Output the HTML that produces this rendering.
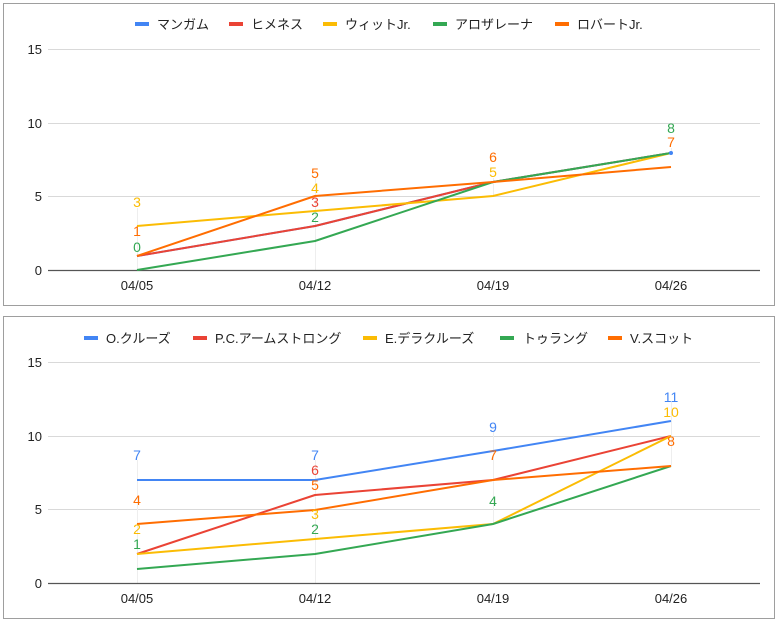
<!DOCTYPE html>
<html><head><meta charset="utf-8"><style>
html,body{margin:0;padding:0;background:#fff;}
svg{display:block;font-family:"Liberation Sans","Noto Sans CJK JP",sans-serif;}
</style></head><body>
<svg width="778" height="622" viewBox="0 0 778 622" xmlns="http://www.w3.org/2000/svg">
<rect x="0" y="0" width="778" height="622" fill="#fff"/>
<!-- Chart 1 -->
<rect x="3.5" y="3.5" width="771" height="302" fill="#fff" stroke="#9e9e9e"/>
<g stroke="#d9d9d9" stroke-width="1">
<line x1="48" y1="49.5" x2="760" y2="49.5"/>
<line x1="48" y1="123.5" x2="760" y2="123.5"/>
<line x1="48" y1="196.5" x2="760" y2="196.5"/>
</g>
<g stroke="#eeeeee"><line x1="137.5" y1="208" x2="137.5" y2="270"/><line x1="315.5" y1="178" x2="315.5" y2="270"/><line x1="493.5" y1="178" x2="493.5" y2="196"/><line x1="671.5" y1="148" x2="671.5" y2="153"/></g>
<line x1="48" y1="270.5" x2="760" y2="270.5" stroke="#555" stroke-width="1.2"/>
<g font-size="13" fill="#222" text-anchor="end">
<text x="42" y="54">15</text><text x="42" y="128">10</text><text x="42" y="201">5</text><text x="42" y="275">0</text>
</g>
<g font-size="13" fill="#222" text-anchor="middle">
<text x="137" y="290">04/05</text><text x="315" y="290">04/12</text><text x="493" y="290">04/19</text><text x="671" y="290">04/26</text>
</g>
<g fill="none" stroke-width="2" stroke-linejoin="round">
<polyline stroke="#4285f4" points="137,256 315,226 493,182 671,153"/>
<polyline stroke="#ea4335" points="137,256 315,226 493,182 671,153"/>
<polyline stroke="#fbbc04" points="137,226 315,211 493,196 671,153"/>
<polyline stroke="#34a853" points="137,270 315,241 493,182 671,153"/>
<polyline stroke="#ff6d01" points="137,256 315,196 493,182 671,167"/>
</g>
<circle cx="671" cy="153" r="2" fill="#4285f4"/>
<g font-size="14" text-anchor="middle">
<text x="137" y="207" fill="#fbbc04">3</text><text x="137" y="236" fill="#ff6d01">1</text><text x="137" y="252" fill="#34a853">0</text>
<text x="315" y="178" fill="#ff6d01">5</text><text x="315" y="193" fill="#fbbc04">4</text><text x="315" y="207" fill="#ea4335">3</text><text x="315" y="222" fill="#34a853">2</text>
<text x="493" y="162" fill="#ff6d01">6</text><text x="493" y="177" fill="#fbbc04">5</text>
<text x="671" y="133" fill="#34a853">8</text><text x="671" y="147" fill="#ff6d01">7</text>
</g>
<g font-size="13" fill="#222">
<rect x="135" y="22" width="14" height="4" fill="#4285f4"/><text x="157" y="29">マンガム</text>
<rect x="229" y="22" width="14" height="4" fill="#ea4335"/><text x="251" y="29">ヒメネス</text>
<rect x="323" y="22" width="14" height="4" fill="#fbbc04"/><text x="345" y="29">ウィットJr.</text>
<rect x="433" y="22" width="14" height="4" fill="#34a853"/><text x="455" y="29">アロザレーナ</text>
<rect x="555" y="22" width="14" height="4" fill="#ff6d01"/><text x="577" y="29">ロバートJr.</text>
</g>
<!-- Chart 2 -->
<rect x="3.5" y="316.5" width="771" height="302" fill="#fff" stroke="#9e9e9e"/>
<g stroke="#d9d9d9" stroke-width="1">
<line x1="48" y1="362.5" x2="760" y2="362.5"/>
<line x1="48" y1="436.5" x2="760" y2="436.5"/>
<line x1="48" y1="509.5" x2="760" y2="509.5"/>
</g>
<g stroke="#eeeeee"><line x1="137.5" y1="460" x2="137.5" y2="583"/><line x1="315.5" y1="460" x2="315.5" y2="583"/><line x1="493.5" y1="432" x2="493.5" y2="524"/><line x1="671.5" y1="402" x2="671.5" y2="466"/></g>
<line x1="48" y1="583.5" x2="760" y2="583.5" stroke="#555" stroke-width="1.2"/>
<g font-size="13" fill="#222" text-anchor="end">
<text x="42" y="367">15</text><text x="42" y="441">10</text><text x="42" y="514">5</text><text x="42" y="588">0</text>
</g>
<g font-size="13" fill="#222" text-anchor="middle">
<text x="137" y="603">04/05</text><text x="315" y="603">04/12</text><text x="493" y="603">04/19</text><text x="671" y="603">04/26</text>
</g>
<g fill="none" stroke-width="2" stroke-linejoin="round">
<polyline stroke="#4285f4" points="137,480 315,480 493,451 671,421"/>
<polyline stroke="#ea4335" points="137,554 315,495 493,480 671,436"/>
<polyline stroke="#fbbc04" points="137,554 315,539 493,524 671,436"/>
<polyline stroke="#34a853" points="137,569 315,554 493,524 671,466"/>
<polyline stroke="#ff6d01" points="137,524 315,510 493,480 671,466"/>
</g>
<g font-size="14" text-anchor="middle">
<text x="137" y="460" fill="#4285f4">7</text><text x="137" y="505" fill="#ff6d01">4</text><text x="137" y="534" fill="#fbbc04">2</text><text x="137" y="549" fill="#34a853">1</text>
<text x="315" y="460" fill="#4285f4">7</text><text x="315" y="475" fill="#ea4335">6</text><text x="315" y="490" fill="#ff6d01">5</text><text x="315" y="519" fill="#fbbc04">3</text><text x="315" y="534" fill="#34a853">2</text>
<text x="493" y="432" fill="#4285f4">9</text><text x="493" y="460" fill="#ff6d01">7</text><text x="493" y="506" fill="#34a853">4</text>
<text x="671" y="402" fill="#4285f4">11</text><text x="671" y="417" fill="#fbbc04">10</text><text x="671" y="446" fill="#ff6d01">8</text>
</g>
<g font-size="13" fill="#222">
<rect x="84" y="336" width="14" height="4" fill="#4285f4"/><text x="106" y="343">O.クルーズ</text>
<rect x="193" y="336" width="14" height="4" fill="#ea4335"/><text x="215" y="343">P.C.アームストロング</text>
<rect x="363" y="336" width="14" height="4" fill="#fbbc04"/><text x="385" y="343">E.デラクルーズ</text>
<rect x="500" y="336" width="14" height="4" fill="#34a853"/><text x="523" y="343">トゥラング</text>
<rect x="608" y="336" width="14" height="4" fill="#ff6d01"/><text x="630" y="343">V.スコット</text>
</g>
</svg>
</body></html>
